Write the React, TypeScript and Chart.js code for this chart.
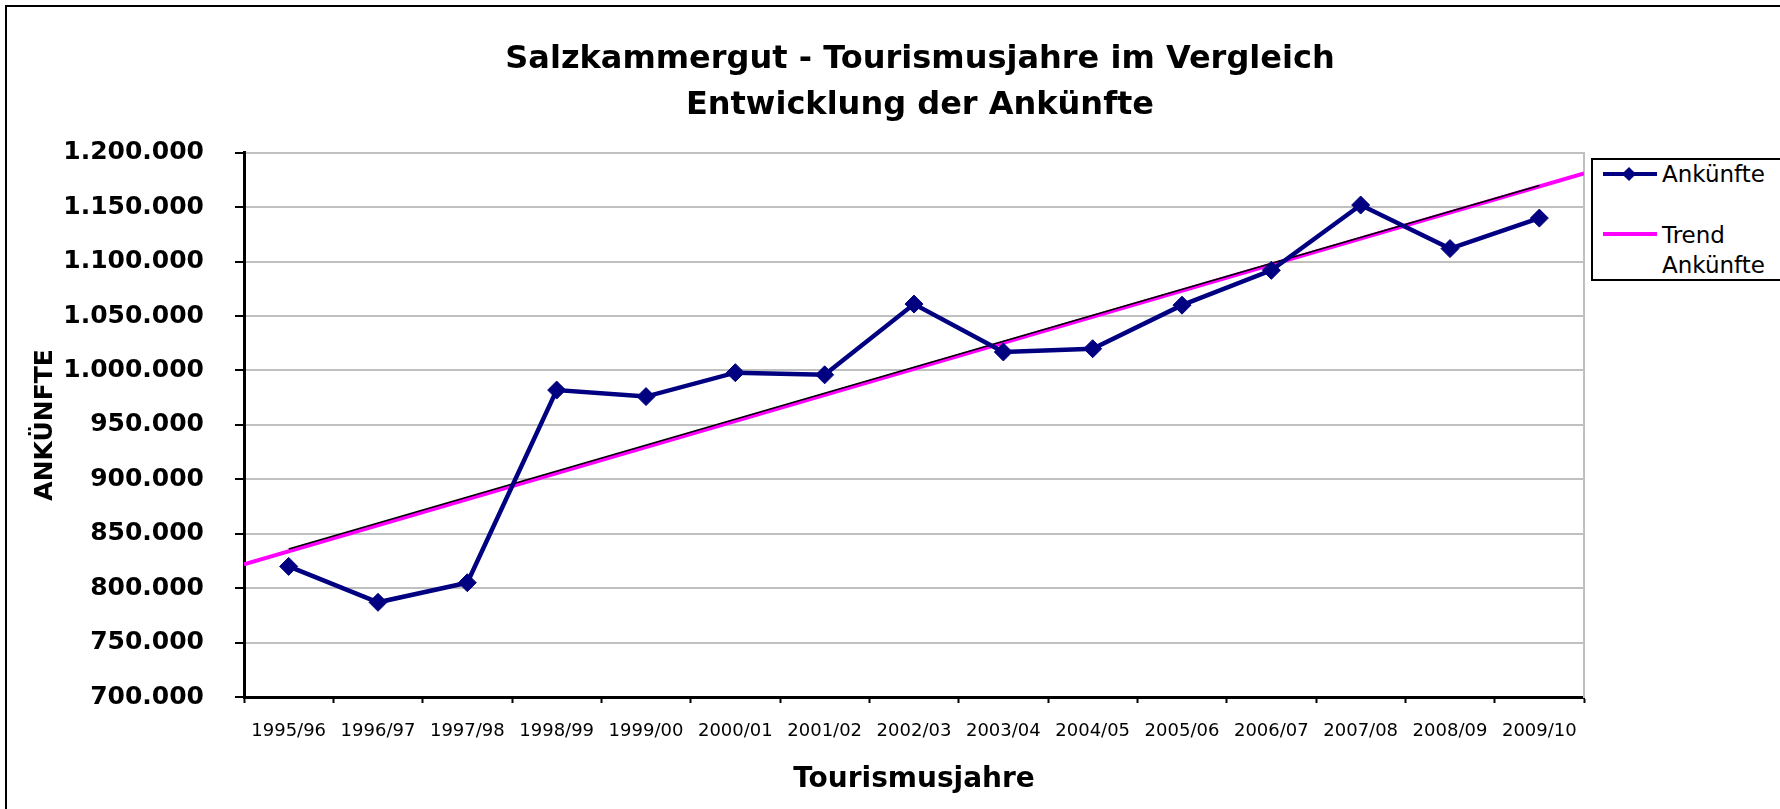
import React, { useEffect, useRef } from 'react';
import { Chart, registerables } from 'chart.js';

Chart.register(...registerables);

// ---- data ----
const categories = [
  '1995/96', '1996/97', '1997/98', '1998/99', '1999/00', '2000/01', '2001/02', '2002/03',
  '2003/04', '2004/05', '2005/06', '2006/07', '2007/08', '2008/09', '2009/10',
];
const arrivals = [
  820000, 787000, 805000, 982000, 976000, 998000, 996000, 1061000,
  1017000, 1020000, 1060000, 1092000, 1152000, 1112000, 1140000,
];
// linear trend (magenta), spanning the whole plot width
const trendX = [-0.5, 14.5];
const trendY = [822000, 1181000];
// thin black trend edge, from first to last category
const trendEdgeX = [0, 14];
const trendEdgeY = [836000, 1170000];

const yMin = 700000;
const yMax = 1200000;
const yStep = 50000;

const titleLines = ['Salzkammergut - Tourismusjahre im Vergleich', 'Entwicklung der Ankünfte'];
const xTitle = 'Tourismusjahre';
const yTitle = 'ANKÜNFTE';
const seriesName = 'Ankünfte';
const trendNameLines = ['Trend', 'Ankünfte'];

const FONT = "'DejaVu Sans', Verdana, sans-serif";
const NAVY = '#000080';
const MAGENTA = '#ff00ff';

const fmt = (v: number) => String(Math.round(v)).replace(/\B(?=(\d{3})+(?!\d))/g, '.');

const W = 1840;
const H = 830;

const outerBorder = {
  id: 'outerBorder',
  beforeDraw(chart: any) {
    const ctx = chart.ctx;
    ctx.save();
    ctx.fillStyle = '#fff';
    ctx.fillRect(0, 0, chart.width, chart.height);
    ctx.strokeStyle = '#000';
    ctx.lineWidth = 2;
    ctx.strokeRect(6, 6, chart.width + 50, chart.height + 50);
    ctx.restore();
  },
};

export default function App() {
  const ref = useRef<HTMLCanvasElement | null>(null);

  useEffect(() => {
    if (!ref.current) return;
    const chart = new Chart(ref.current, {
      type: 'line',
      data: {
        labels: categories,
        datasets: [
          {
            label: seriesName,
            data: arrivals,
            xAxisID: 'x',
            yAxisID: 'y',
            borderColor: NAVY,
            backgroundColor: NAVY,
            borderWidth: 4.5,
            pointStyle: 'rectRot',
            pointRadius: 9,
            pointBackgroundColor: NAVY,
            pointBorderColor: NAVY,
            pointBorderWidth: 1,
            tension: 0,
            fill: false,
          },
          {
            label: 'Trend (Rand)',
            data: trendEdgeX.map((x, i) => ({ x, y: trendEdgeY[i] })),
            xAxisID: 'xt',
            yAxisID: 'y',
            borderColor: '#000',
            borderWidth: 1.5,
            pointRadius: 0,
            fill: false,
          },
          {
            label: 'Trend Ankünfte',
            data: trendX.map((x, i) => ({ x, y: trendY[i] })),
            xAxisID: 'xt',
            yAxisID: 'y',
            borderColor: MAGENTA,
            borderWidth: 4,
            pointRadius: 0,
            fill: false,
          },
        ],
      },
      options: {
        animation: false,
        responsive: false,
        devicePixelRatio: 1,
        layout: { padding: { left: 0, right: 0, top: 0, bottom: 30 } },
        plugins: {
          legend: { display: false },
          tooltip: { enabled: false },
          title: {
            display: true,
            text: titleLines,
            color: '#000',
            font: { family: FONT, size: 32, weight: 'bold', lineHeight: 1.45 },
            padding: { top: 36, bottom: 24 },
          },
        },
        scales: {
          x: {
            type: 'category',
            position: 'bottom',
            offset: true,
            grid: {
              offset: true,
              drawOnChartArea: false,
              drawTicks: true,
              tickLength: 6,
              tickColor: '#000',
              tickWidth: 2,
            },
            border: { display: true, color: '#000', width: 3 },
            ticks: {
              color: '#000',
              font: { family: FONT, size: 18 },
              padding: 18,
              maxRotation: 0,
              autoSkip: false,
            },
            title: {
              display: true,
              text: xTitle,
              color: '#000',
              font: { family: FONT, size: 28, weight: 'bold' },
              padding: { top: 4, bottom: 3 },
            },
            afterFit: (s: any) => {
              s.height = 103;
            },
          },
          xt: {
            type: 'linear',
            display: false,
            min: -0.5,
            max: 14.5,
          },
          y: {
            type: 'linear',
            position: 'left',
            min: yMin,
            max: yMax,
            grid: {
              color: '#c0c0c0',
              lineWidth: 2,
              drawTicks: true,
              tickLength: 9,
              tickColor: '#000',
              tickWidth: 2,
            },
            border: { display: true, color: '#000', width: 3 },
            ticks: {
              stepSize: yStep,
              color: '#000',
              font: { family: FONT, size: 25, weight: 'bold' },
              padding: 31,
              callback: (v: any) => fmt(Number(v)),
            },
            title: {
              display: true,
              text: yTitle,
              color: '#000',
              font: { family: FONT, size: 25, weight: 'bold' },
              padding: { top: 30, bottom: 0 },
            },
            afterFit: (s: any) => {
              s.width = 244;
            },
          },
          y2: {
            type: 'linear',
            position: 'right',
            min: yMin,
            max: yMax,
            grid: { display: false },
            ticks: { display: false },
            border: { display: true, color: '#c0c0c0', width: 2 },
            afterFit: (s: any) => {
              s.width = W - 1584;
            },
          },
        },
      },
      plugins: [outerBorder],
    } as any);
    return () => chart.destroy();
  }, []);

  const legendText: React.CSSProperties = {
    position: 'absolute',
    fontFamily: FONT,
    fontSize: 23,
    lineHeight: '30px',
    color: '#000',
    whiteSpace: 'nowrap',
  };

  return (
    <div
      style={{
        position: 'fixed',
        left: 0,
        top: 0,
        width: 1780,
        height: 809,
        overflow: 'hidden',
        background: '#fff',
      }}
    >
      <canvas
        ref={ref}
        width={W}
        height={H}
        style={{ position: 'absolute', left: 0, top: 0, width: W, height: H }}
      />
      {/* legend */}
      <div
        style={{
          position: 'absolute',
          left: 1591,
          top: 158,
          width: 240,
          height: 119,
          border: '2px solid #000',
          background: '#fff',
        }}
      />
      <div style={{ position: 'absolute', left: 1603, top: 172, width: 54, height: 4, background: NAVY }} />
      <div
        style={{
          position: 'absolute',
          left: 1629 - 5,
          top: 174 - 5,
          width: 10,
          height: 10,
          background: NAVY,
          transform: 'rotate(45deg)',
        }}
      />
      <div style={{ ...legendText, left: 1662, top: 159.4 }}>{seriesName}</div>
      <div style={{ position: 'absolute', left: 1603, top: 232, width: 54, height: 4, background: MAGENTA }} />
      <div style={{ ...legendText, left: 1662, top: 220.4 }}>
        {trendNameLines[0]}
        <br />
        {trendNameLines[1]}
      </div>
    </div>
  );
}
